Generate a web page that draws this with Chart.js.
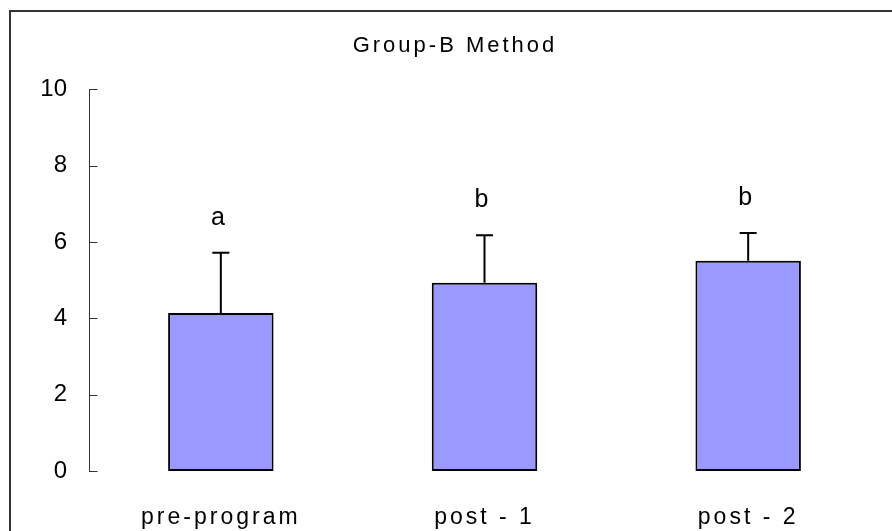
<!DOCTYPE html>
<html>
<head>
<meta charset="utf-8">
<script src="https://cdn.jsdelivr.net/npm/chart.js@4/dist/chart.umd.min.js"></script>
<style>
html,body{margin:0;padding:0;background:#fff;}
#c{display:block;}
</style>
</head>
<body>
<canvas id="c" width="892" height="531"></canvas>
<script>
// ---- data ----
const categories = ['pre-program', 'post - 1', 'post - 2'];
const means = [4.14, 4.93, 5.51];
const sds = [1.58, 1.25, 0.73];
const sigLetters = ['a', 'b', 'b'];
const yTicks = [0, 2, 4, 6, 8, 10];
const chartTitle = 'Group-B Method';

// ---- style ----
const FONT = "'Liberation Sans', Arial, sans-serif";
const AXIS_COLOR = '#333333';

const framePlugin = {
  id: 'frame',
  beforeDraw(chart) {
    const ctx = chart.ctx;
    ctx.save();
    ctx.fillStyle = '#ffffff';
    ctx.fillRect(0, 0, chart.width, chart.height);
    ctx.strokeStyle = '#333333';
    ctx.lineWidth = 2;
    ctx.strokeRect(10, 11, chart.width + 20, chart.height + 20);
    ctx.restore();
    // wider letter spacing (as in the reference) for title
    try { ctx.letterSpacing = '3px'; } catch (e) {}
  },
  afterLayout(chart) {
    const ctx = chart.ctx;
    const wrap = (scale, sp) => {
      if (scale._wrapped) return;
      const orig = scale.drawLabels.bind(scale);
      scale.drawLabels = function (area) {
        const prev = ctx.letterSpacing;
        try { ctx.letterSpacing = sp; } catch (e) {}
        orig(area);
        try { ctx.letterSpacing = prev; } catch (e) {}
      };
      scale._wrapped = true;
    };
    wrap(chart.scales.x, '3px');
    wrap(chart.scales.y, '0px');
  },
  afterDraw(chart) {
    try { chart.ctx.letterSpacing = '0px'; } catch (e) {}
  }
};

const innerTicksPlugin = {
  id: 'innerTicks',
  afterDraw(chart) {
    const y = chart.scales.y;
    const ctx = chart.ctx;
    ctx.save();
    ctx.strokeStyle = AXIS_COLOR;
    ctx.lineWidth = 1;
    const x0 = Math.round(chart.chartArea.left) + 0.5;
    y.ticks.forEach(t => {
      const py = Math.round(y.getPixelForValue(t.value)) + 0.5;
      ctx.beginPath();
      ctx.moveTo(x0, py);
      ctx.lineTo(x0 + 8, py);
      ctx.stroke();
    });
    ctx.restore();
  }
};

const errorBarPlugin = {
  id: 'errorBars',
  afterDatasetsDraw(chart) {
    const meta = chart.getDatasetMeta(0);
    const y = chart.scales.y;
    const ctx = chart.ctx;
    ctx.save();
    try { ctx.letterSpacing = '0px'; } catch (e) {}
    ctx.strokeStyle = '#000';
    ctx.lineWidth = 2;
    ctx.fillStyle = '#000';
    ctx.font = '25px ' + FONT;
    ctx.textAlign = 'center';
    ctx.textBaseline = 'middle';
    meta.data.forEach((el, i) => {
      const top = y.getPixelForValue(means[i] + sds[i]);
      ctx.beginPath();
      ctx.moveTo(el.x, el.y);
      ctx.lineTo(el.x, top);
      ctx.moveTo(el.x - 8.5, top);
      ctx.lineTo(el.x + 8.5, top);
      ctx.stroke();
      ctx.fillText(sigLetters[i], el.x - 3, top - 35);
    });
    ctx.restore();
  }
};

new Chart(document.getElementById('c'), {
  type: 'bar',
  data: {
    labels: categories,
    datasets: [{
      data: means,
      backgroundColor: '#9999FF',
      borderColor: '#000000',
      borderWidth: 2,
      borderSkipped: false,
      categoryPercentage: 1.0,
      barPercentage: 0.4
    }]
  },
  options: {
    responsive: false,
    animation: false,
    devicePixelRatio: 1,
    layout: { padding: { left: 30, right: 12, top: 0, bottom: 0 } },
    plugins: {
      legend: { display: false },
      tooltip: { enabled: false },
      title: {
        display: true,
        text: chartTitle,
        color: '#000',
        font: { family: FONT, size: 22, weight: 'normal' },
        padding: { top: 33, bottom: 30 }
      }
    },
    scales: {
      x: {
        type: 'category',
        offset: true,
        grid: { display: false, drawTicks: false },
        border: { display: false },
        ticks: {
          color: '#000',
          font: { family: FONT, size: 23 },
          padding: 33,
          maxRotation: 0,
          autoSkip: false
        },
        afterFit(s) { s.height = 60; }
      },
      y: {
        min: 0,
        max: 10,
        afterBuildTicks(s) { s.ticks = yTicks.map(v => ({ value: v })); },
        grid: { display: false, drawTicks: false },
        border: { display: true, color: AXIS_COLOR, width: 1 },
        ticks: {
          color: '#000',
          font: { family: FONT, size: 24 },
          padding: 22
        },
        afterFit(s) { s.width = 59; }
      }
    }
  },
  plugins: [framePlugin, innerTicksPlugin, errorBarPlugin]
});
</script>
</body>
</html>
